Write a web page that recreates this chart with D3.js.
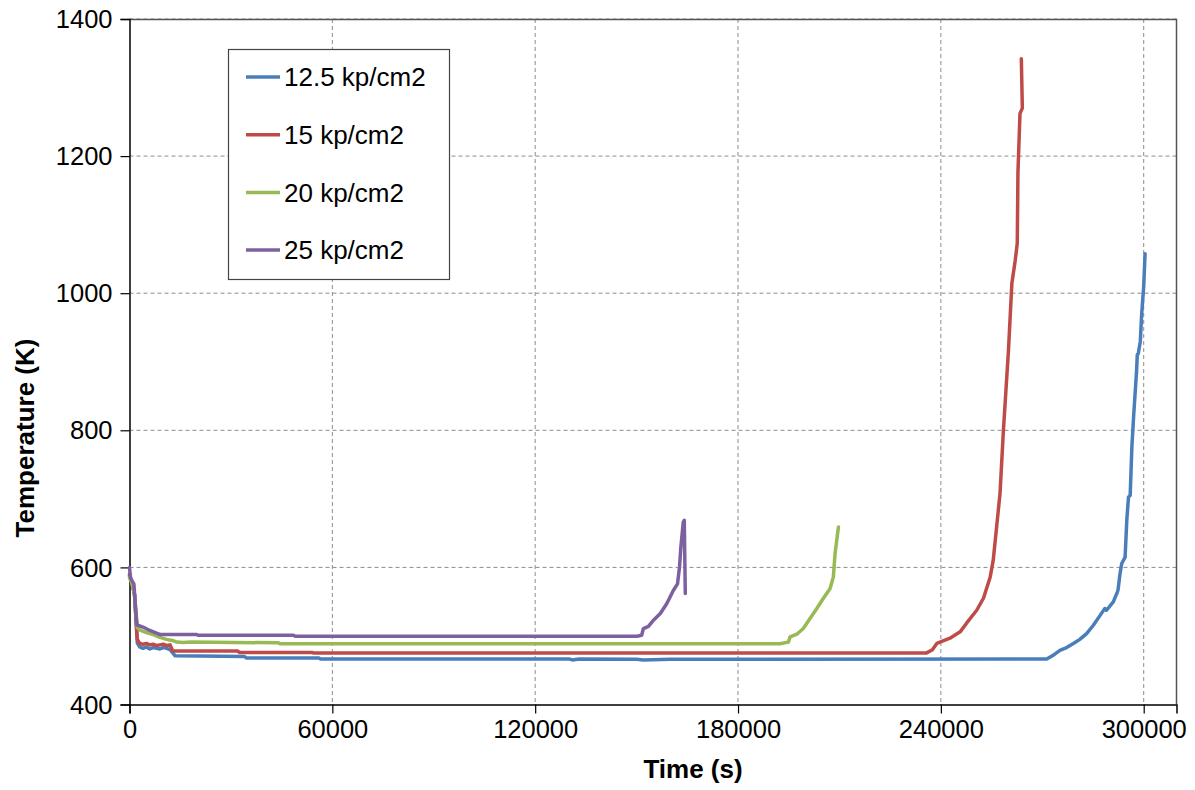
<html>
  <head>
    <title>Temperature vs time</title>
    <script src="https://d3js.org/d3.v7.min.js"></script>
    <style>
      body {
        margin: 0;
        background: #fff;
      }
      text {
        font-family: "Liberation Sans", Arial, sans-serif;
        fill: #000;
      }
      line.grid {
        stroke: #8c8c8c;
        stroke-width: 1px;
        stroke-dasharray: 4 3;
      }
      text.tick {
        font-size: 25.5px;
      }
      text.title {
        font-size: 26px;
        font-weight: bold;
        text-anchor: middle;
      }
    </style>
  </head>
  <body>
    <svg id="chart" width="1195" height="790"></svg>

    <script>
      // values: [time (s), temperature (K)]
      const p125 = [
        [0, 590], [700, 578], [1500, 560], [2300, 490], [3000, 484], [4000, 482],
        [5000, 484], [6000, 481], [7000, 483], [8000, 482], [9000, 481], [10000, 483],
        [11000, 482], [12000, 480], [13500, 471], [34000, 470], [34500, 468],
        [56000, 468], [56500, 466.5], [130000, 466.5], [131000, 465], [133000, 466.5],
        [150000, 466], [152000, 465], [160000, 466], [271300, 466.5], [273300, 472],
        [275200, 479], [277200, 483], [279200, 489], [281100, 495], [283100, 503.5],
        [285100, 515.6], [287100, 530], [288500, 540], [289000, 537.5], [291000, 549.6],
        [292200, 564], [292400, 567], [293000, 591], [293500, 605.6], [294500, 615],
        [295000, 668.8], [295500, 702.7], [296000, 705], [296500, 775.7], [297000, 819],
        [297900, 887.5], [298100, 910], [298400, 912], [299000, 930], [299400, 970],
        [300000, 1010], [300400, 1057.7]
      ];
      const p15 = [
        [0, 588], [700, 578], [1500, 560], [2300, 495], [3000, 489], [4000, 488],
        [5000, 489], [6000, 487], [7000, 488], [8000, 486], [9000, 487], [10000, 488],
        [11000, 486], [12000, 487], [12800, 478], [32000, 478], [32500, 476],
        [54000, 476], [54500, 475], [235800, 475.3], [237500, 480], [238800, 489],
        [242700, 496.7], [245700, 506], [247600, 518.6], [250600, 537.5], [252600, 555],
        [254600, 586], [255500, 611], [257500, 708], [258500, 800], [260000, 917],
        [261000, 1014], [262000, 1048], [262600, 1073], [262800, 1176], [263400, 1262],
        [264100, 1270], [263800, 1342]
      ];
      const p20 = [
        [0, 585], [700, 577], [1500, 560], [2300, 512], [3000, 509], [5000, 505],
        [7000, 502], [9000, 498], [11000, 495], [13000, 493], [14000, 491],
        [16000, 490.5], [18000, 491], [44000, 490], [44500, 488.5], [192400, 488.7],
        [194900, 491], [195400, 498.6], [197400, 502.5], [199300, 510.8], [201300, 525.4],
        [203300, 540], [205200, 554.6], [207200, 569], [208200, 586], [208700, 620],
        [209700, 659]
      ];
      const p25 = [
        [0, 600], [300, 585], [800, 580], [1300, 576], [1800, 540], [2200, 516],
        [4000, 513], [6000, 508], [8000, 504], [9100, 502], [19900, 502], [20300, 501],
        [48500, 501], [49000, 499.6], [150100, 499.6], [151500, 501], [152000, 510.8],
        [153500, 514], [155000, 523], [157000, 532.7], [158900, 547], [160900, 566.7],
        [162100, 576], [162700, 600.7], [163100, 630], [163800, 666], [164100, 668.8],
        [164400, 562]
      ];

      const seriesNames = ["12.5 kp/cm2", "15 kp/cm2", "20 kp/cm2", "25 kp/cm2"];
      const seriesColors = ["#4a7ebb", "#be4b48", "#98b954", "#7d60a0"];
      const seriesData = [p125, p15, p20, p25];

      const xTicks = [0, 60000, 120000, 180000, 240000, 300000];
      const yTicks = [400, 600, 800, 1000, 1200, 1400];

      const svg = d3.select("#chart");
      const margin = { top: 19, right: 18.5, bottom: 85.5, left: 129.5 };
      const width = 1195 - margin.left - margin.right;
      const height = 790 - margin.top - margin.bottom;

      const layer = svg
        .append("g")
        .attr("transform", `translate(${margin.left}, ${margin.top})`);

      const x = d3.scaleLinear().domain([0, 309700]).range([0, width]);
      const y = d3.scaleLinear().domain([400, 1400]).range([height, 0]);

      // dashed grid
      layer
        .selectAll("line.gx")
        .data(xTicks.slice(1))
        .join("line")
        .attr("class", "grid")
        .attr("x1", (d) => x(d))
        .attr("x2", (d) => x(d))
        .attr("y1", 0)
        .attr("y2", height);
      layer
        .selectAll("line.gy")
        .data(yTicks.slice(1))
        .join("line")
        .attr("class", "grid")
        .attr("x1", 0)
        .attr("x2", width)
        .attr("y1", (d) => y(d))
        .attr("y2", (d) => y(d));

      // plot border (top + right)
      layer
        .append("path")
        .attr("d", `M0,0.5H${width}V${height}`)
        .attr("fill", "none")
        .attr("stroke", "#555")
        .attr("stroke-width", 1.5);

      // axes
      const xAxis = layer
        .append("g")
        .attr("transform", `translate(0, ${height})`)
        .call(d3.axisBottom(x).tickValues(xTicks).tickSize(9).tickFormat(d3.format("d")));
      const yAxis = layer
        .append("g")
        .call(d3.axisLeft(y).tickValues(yTicks).tickSize(9).tickFormat(d3.format("d")));

      [xAxis, yAxis].forEach((ax) => {
        ax.select(".domain").attr("stroke", "#000").attr("stroke-width", 1.5);
        ax.selectAll(".tick line").attr("stroke", "#000").attr("stroke-width", 1.2);
        ax.selectAll(".tick text")
          .attr("class", "tick")
          .attr("fill", "#000")
          .style("font-family", '"Liberation Sans", Arial, sans-serif');
      });
      xAxis.selectAll(".tick text").attr("dy", "1.33em").attr("y", 0);
      yAxis.selectAll(".tick text").attr("x", -17).attr("dy", "0.34em");

      // data lines
      const line = d3
        .line()
        .x((d) => x(d[0]))
        .y((d) => y(d[1]));

      layer
        .selectAll("path.series")
        .data(seriesData)
        .join("path")
        .attr("class", "series")
        .attr("d", line)
        .attr("fill", "none")
        .attr("stroke", (d, i) => seriesColors[i])
        .attr("stroke-width", 3.5)
        .attr("stroke-linejoin", "round")
        .attr("stroke-linecap", "round");

      // axis titles
      svg
        .append("text")
        .attr("class", "title")
        .attr("x", 693)
        .attr("y", 778)
        .text("Time (s)");
      svg
        .append("text")
        .attr("class", "title")
        .attr("transform", "translate(34, 438) rotate(-90)")
        .text("Temperature (K)");

      // legend
      const legend = svg.append("g").attr("transform", "translate(228, 49)");
      legend
        .append("rect")
        .attr("x", 0.5)
        .attr("y", 0.5)
        .attr("width", 221)
        .attr("height", 230)
        .attr("fill", "#fff")
        .attr("stroke", "#444")
        .attr("stroke-width", 1.2);
      const rows = legend
        .selectAll("g.row")
        .data(seriesNames)
        .join("g")
        .attr("class", "row")
        .attr("transform", (d, i) => `translate(0, ${28 + i * 57.7})`);
      rows
        .append("line")
        .attr("x1", 18)
        .attr("x2", 52)
        .attr("stroke", (d, i) => seriesColors[i])
        .attr("stroke-width", 3.5);
      rows
        .append("text")
        .attr("x", 56)
        .attr("dy", "0.35em")
        .style("font-size", "26px")
        .text((d) => d);
    </script>
  </body>
</html>
